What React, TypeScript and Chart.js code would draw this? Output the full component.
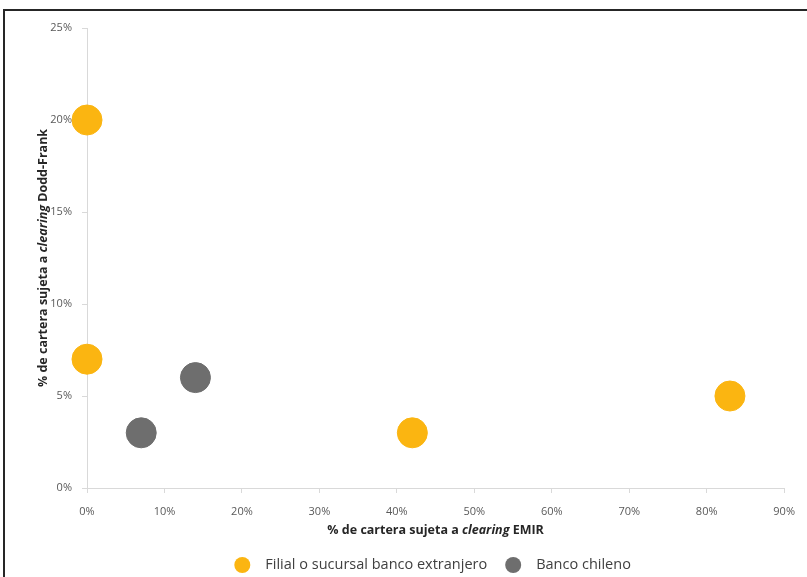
import React, { useEffect, useRef } from "react";
import { Chart, registerables } from "chart.js";

Chart.register(...registerables);

// Portfolio shares subject to clearing (percent)
const foreignEmir = [0, 0, 42, 83];
const foreignDoddFrank = [20, 7, 3, 5];
const chileanEmir = [7, 14];
const chileanDoddFrank = [3, 6];

const seriesLabels = ["Filial o sucursal banco extranjero", "Banco chileno"];
const seriesColors = ["#FBB511", "#6E6E6E"];

const xTicks = [0, 10, 20, 30, 40, 50, 60, 70, 80, 90];
const yTicks = [0, 5, 10, 15, 20, 25];

const xTitleParts = [
  { text: "% de cartera sujeta a ", italic: false },
  { text: "clearing", italic: true },
  { text: " EMIR", italic: false },
];
const yTitleParts = [
  { text: "% de cartera sujeta a ", italic: false },
  { text: "clearing", italic: true },
  { text: " Dodd-Frank", italic: false },
];

const FONT = "'Open Sans', 'Liberation Sans', sans-serif";
const LEGEND_FONT = `14.5px ${FONT}`;

type Part = { text: string; italic: boolean };

function drawRich(ctx: CanvasRenderingContext2D, parts: Part[], cx: number, cy: number) {
  const fontFor = (p: Part) => `${p.italic ? "italic " : ""}bold 12.5px ${FONT}`;
  let total = 0;
  for (const p of parts) {
    ctx.font = fontFor(p);
    total += ctx.measureText(p.text).width;
  }
  let x = cx - total / 2;
  ctx.textBaseline = "middle";
  ctx.textAlign = "left";
  for (const p of parts) {
    ctx.font = fontFor(p);
    ctx.fillText(p.text, x, cy);
    x += ctx.measureText(p.text).width;
  }
}

// Legend row under the axis title: circle marker + label per dataset
function drawLegend(chart: any, cy: number) {
  const { ctx, chartArea } = chart;
  const datasets = chart.data.datasets;
  const r = 8;
  const textGap = 15;
  const itemGap = 18;
  ctx.font = LEGEND_FONT;
  const widths = datasets.map((d: any) => ctx.measureText(d.label).width);
  const total =
    widths.reduce((a: number, w: number) => a + 2 * r + textGap + w, 0) + itemGap * (datasets.length - 1);
  let x = (chartArea.left + chartArea.right) / 2 - 3 - total / 2;
  ctx.textBaseline = "middle";
  ctx.textAlign = "left";
  datasets.forEach((d: any, i: number) => {
    ctx.fillStyle = d.backgroundColor;
    ctx.beginPath();
    ctx.arc(x + r, cy, r, 0, Math.PI * 2);
    ctx.fill();
    x += 2 * r + textGap;
    ctx.fillStyle = "#404040";
    ctx.fillText(d.label, x, cy);
    x += widths[i] + itemGap;
  });
}

const decorations = {
  id: "decorations",
  beforeDraw(chart: any) {
    const { ctx, width, height } = chart;
    ctx.save();
    ctx.fillStyle = "#ffffff";
    ctx.fillRect(0, 0, width, height);
    ctx.strokeStyle = "#262626";
    ctx.lineWidth = 2;
    ctx.beginPath();
    ctx.moveTo(4, height);
    ctx.lineTo(4, 10);
    ctx.lineTo(width, 10);
    ctx.stroke();
    ctx.restore();
  },
  afterDraw(chart: any) {
    const { ctx, chartArea } = chart;
    ctx.save();
    ctx.fillStyle = "#262626";
    drawRich(ctx, xTitleParts, (chartArea.left + chartArea.right) / 2, 530);
    drawLegend(chart, 565);
    ctx.fillStyle = "#262626";
    ctx.translate(43, (chartArea.top + chartArea.bottom) / 2);
    ctx.rotate(-Math.PI / 2);
    drawRich(ctx, yTitleParts, 0, 0);
    ctx.restore();
  },
};

export default function App() {
  const ref = useRef<HTMLCanvasElement>(null);

  useEffect(() => {
    if (!ref.current) return;
    const chart = new Chart(ref.current, {
      type: "scatter",
      data: {
        datasets: [
          {
            label: seriesLabels[0],
            data: foreignEmir.map((x, i) => ({ x, y: foreignDoddFrank[i] })),
            backgroundColor: seriesColors[0],
            borderColor: seriesColors[0],
            pointRadius: 15,
            pointHoverRadius: 15,
            clip: false,
          },
          {
            label: seriesLabels[1],
            data: chileanEmir.map((x, i) => ({ x, y: chileanDoddFrank[i] })),
            backgroundColor: seriesColors[1],
            borderColor: seriesColors[1],
            pointRadius: 15,
            pointHoverRadius: 15,
            clip: false,
          },
        ],
      },
      options: {
        animation: false,
        responsive: false,
        layout: { padding: { left: 0, top: 28, right: 22, bottom: 0 } },
        plugins: {
          tooltip: { enabled: false },
          legend: { display: false },
        },
        scales: {
          x: {
            type: "linear",
            min: 0,
            max: 90,
            afterBuildTicks: (s: any) => {
              s.ticks = xTicks.map((v) => ({ value: v }));
            },
            afterFit: (s: any) => {
              s.height = 89;
            },
            grid: {
              drawOnChartArea: false,
              drawTicks: true,
              tickLength: 5,
              color: "#d9d9d9",
            },
            border: { color: "#d9d9d9", width: 1 },
            ticks: {
              padding: 12,
              color: "#595959",
              font: { family: FONT, size: 11 },
              callback: (v: any) => `${v}%`,
            },
          },
          y: {
            type: "linear",
            min: 0,
            max: 25,
            afterBuildTicks: (s: any) => {
              s.ticks = yTicks.map((v) => ({ value: v }));
            },
            afterFit: (s: any) => {
              s.width = 87;
            },
            grid: {
              drawOnChartArea: false,
              drawTicks: true,
              tickLength: 5,
              color: "#d9d9d9",
            },
            border: { color: "#d9d9d9", width: 1 },
            ticks: {
              padding: 10,
              color: "#595959",
              font: { family: FONT, size: 11 },
              callback: (v: any) => `${v}%`,
            },
          },
        },
      },
      plugins: [decorations],
    });
    return () => chart.destroy();
  }, []);

  return (
    <div style={{ position: "absolute", left: 0, top: 0, width: 807, height: 577, background: "#fff" }}>
      <canvas ref={ref} width={807} height={577} style={{ display: "block" }} />
    </div>
  );
}
